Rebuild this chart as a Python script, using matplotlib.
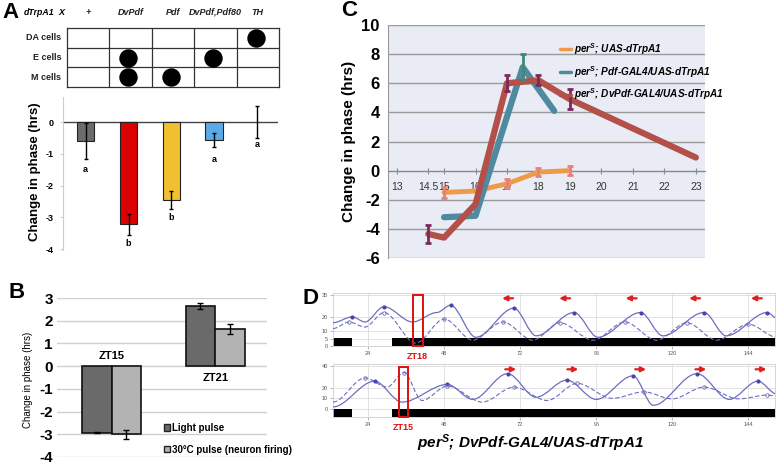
import numpy as np
import matplotlib
matplotlib.use('Agg')
import matplotlib.pyplot as plt
import matplotlib.transforms as mtransforms
from matplotlib.path import Path
from matplotlib.patches import PathPatch, Rectangle, Patch

plt.rcParams['font.family'] = ['Liberation Sans', 'DejaVu Sans']
plt.rcParams['mathtext.default'] = 'regular'

W, H = 777, 466

# ---------------- panel A data
a_genotypes = ['+', 'DvPdf', 'Pdf', 'DvPdf,Pdf80', 'TH']
a_cell_rows = ['DA cells', 'E cells', 'M cells']
a_expression = [[0, 0, 0, 0, 1],
                [0, 1, 0, 1, 0],
                [0, 1, 1, 0, 0]]
a_shift = [-0.6, -3.22, -2.45, -0.57, 0.0]
a_err = [0.57, 0.33, 0.29, 0.22, 0.5]
a_letters = ['a', 'b', 'b', 'a', 'a']
a_letter_y = [-1.48, -3.81, -3.0, -1.17, -0.72]
a_colors = ['#6b6b6b', '#dd0000', '#f0c030', '#5aaae8', 'none']

# ---------------- panel B data
b_groups = ['ZT15', 'ZT21']
b_light = [-2.93, 2.65]
b_light_err = [0.03, 0.12]
b_heat = [-3.0, 1.65]
b_heat_err = [0.2, 0.22]

# ---------------- panel C data
c_tick_pos = [13.5, 14.5, 15, 16, 17, 18, 19, 20, 21, 22, 23]
c_tick_labels = ['13', '14.5', '15', '16', '17', '18', '19', '20', '21', '22', '23']
c_uas_x = [15, 16, 17, 18, 19]
c_uas_y = [-1.5, -1.4, -0.9, -0.1, 0.0]
c_uas_err = [0.35, 0, 0.3, 0.3, 0.3]
c_pdf_x = [15, 16, 17.5, 18.5]
c_pdf_y = [-3.2, -3.1, 7.1, 4.1]
c_pdf_err = [0, 0, 0.9, 0]
c_dv_x = [14.5, 15, 16, 17, 18, 19, 23]
c_dv_y = [-4.35, -4.6, -2.3, 6.0, 6.2, 4.9, 0.9]
c_dv_err = [0.65, 0, 0, 0.55, 0.35, 0.7, 0]

# ---------------- panel D data (hours, counts) - extrema
d_hour_ticks = [24, 48, 72, 96, 120, 144]
d_dark_start = [12.9, 31.5]
d_dark_end = [19.0, 152.4]

d_top_solid_t = [12.9, 19, 23, 29, 38, 45.7, 50, 58, 70, 77, 89, 96.5, 110, 117, 130, 137, 150, 153]
d_top_solid_v = [16, 20, 16.5, 27, 16.5, 23, 28, 6, 26, 7, 23, 6, 23, 7, 23, 7, 23, 19]
d_top_dash_t = [12.9, 18, 23, 29, 39, 48, 57, 66.5, 76, 84.5, 95, 105, 115, 124.6, 134, 144, 153]
d_top_dash_v = [12, 16.5, 13, 23, 2, 18.5, 4, 16.5, 4, 16, 4, 16.5, 4, 16, 4, 15, 6]

d_bot_solid_t = [12.9, 26, 34.7, 49, 57, 68, 77, 86.7, 96, 107.6, 114, 127.8, 138, 147, 153]
d_bot_solid_v = [2, 26, 6.5, 23, 9, 33, 11, 27, 9, 31, 3.5, 33, 9, 26, 14]
d_bot_dash_t = [12.9, 23, 30, 35.3, 41, 49, 60, 70, 80.5, 90, 101, 111, 120, 130, 141, 150, 153]
d_bot_dash_v = [6.5, 29, 20.5, 34, 8, 21.5, 6.5, 20.5, 8, 24, 10, 16, 9.5, 20.5, 9.5, 13, 12]

d_top_arrows = [68, 86, 107, 127, 146.5]
d_bot_arrows = [69, 88.6, 110, 129, 148]
d_top_box = [38.0, 41.3]
d_bot_box = [33.8, 36.6]

fig = plt.figure(figsize=(W / 100, H / 100), dpi=100)


def px_axes(x0, y0, x1, y1):
    return fig.add_axes([x0 / W, 1 - y1 / H, (x1 - x0) / W, (y1 - y0) / H])


def smooth_trace(ax, t, v, **kw):
    # cubic segments with flat tangents at each read-off extremum
    verts = [(t[0], v[0])]
    codes = [Path.MOVETO]
    for i in range(1, len(t)):
        d = (t[i] - t[i - 1]) / 3.0
        verts += [(t[i - 1] + d, v[i - 1]), (t[i] - d, v[i]), (t[i], v[i])]
        codes += [Path.CURVE4] * 3
    ax.add_patch(PathPatch(Path(verts, codes), fill=False, **kw))


def peaks(t, v):
    t = np.asarray(t); v = np.asarray(v)
    m = np.zeros(len(v), bool)
    m[1:-1] = (v[1:-1] > v[:-2]) & (v[1:-1] > v[2:])
    return t[m], v[m]


# ================= panel A : table
fig.text(2 / W, 1 - 13 / H, 'A', fontsize=16, fontweight='bold', va='center')
axt = px_axes(67, 28, 279, 87)
axt.set_xlim(0, 5)
axt.set_ylim(3, 0)
for k in range(1, 5):
    axt.axvline(k, color='#333333', lw=0.9)
for k in range(1, 3):
    axt.axhline(k, color='#333333', lw=0.9)
for s in axt.spines.values():
    s.set_color('#333333')
    s.set_linewidth(0.9)
axt.set_xticks([])
axt.set_yticks([])
for r, row in enumerate(a_expression):
    cols = [c + 0.45 for c, on in enumerate(row) if on]
    axt.scatter(cols, [r + 0.5] * len(cols), s=150, color='black', zorder=3)
    axt.text(-0.14, r + 0.5, a_cell_rows[r], ha='right', va='center', fontsize=6.5,
             fontweight='bold', color='#222222')
for c, g in enumerate(a_genotypes):
    axt.text(c + 0.5, -0.8, g, ha='center', va='center', fontsize=6.5,
             fontweight='bold', style='italic', color='#222222')
axt.text(-0.66, -0.8, 'dTrpA1', ha='center', va='center', fontsize=6.3,
         fontweight='bold', style='italic', clip_on=False)
axt.text(-0.12, -0.8, 'X', ha='center', va='center', fontsize=6.5,
         fontweight='bold', style='italic', clip_on=False)

# ================= panel A : bars
axa = px_axes(63, 97, 278, 250)
xa = np.arange(len(a_shift))
axa.bar(xa, a_shift, width=0.41, color=a_colors,
        edgecolor=['#222222'] * 4 + ['none'], linewidth=0.8, zorder=2)
axa.errorbar(xa, a_shift, yerr=a_err, fmt='none', ecolor='black', elinewidth=1,
             capsize=1.5, capthick=1, zorder=3)
axa.axhline(0, color='#444444', lw=1, zorder=1)
for x, lt, ly in zip(xa, a_letters, a_letter_y):
    axa.text(x, ly, lt, ha='center', va='center', fontsize=6.5, fontweight='bold')
axa.set_xlim(-0.53, 4.49)
axa.set_ylim(-4.03, 0.79)
axa.set_yticks([0, -1, -2, -3, -4])
axa.set_yticklabels(['0', '-1', '-2', '-3', '-4'], fontsize=6.5, fontweight='bold')
axa.set_xticks([])
for s in ['top', 'right', 'bottom']:
    axa.spines[s].set_visible(False)
axa.spines['left'].set_color('#cccccc')
axa.tick_params(axis='y', length=2, color='#cccccc', pad=5)
fig.text(35 / W, 1 - 172 / H, 'Change in phase (hrs)', rotation=90, ha='center',
         va='center', fontsize=9.5, fontweight='bold')

# ================= panel B
fig.text(8 / W, 1 - 292 / H, 'B', fontsize=16, fontweight='bold', va='center')
axb = px_axes(57, 298, 267, 457)
xb = np.arange(len(b_groups))
bw = 0.285
axb.bar(xb - bw / 2, b_light, width=bw, color='#6a6a6a', edgecolor='#111111', lw=1.2, zorder=2)
axb.bar(xb + bw / 2, b_heat, width=bw, color='#b3b3b3', edgecolor='#111111', lw=1.2, zorder=2)
axb.errorbar(xb - bw / 2, b_light, yerr=b_light_err, fmt='none', ecolor='black',
             elinewidth=1, capsize=2, zorder=3)
axb.errorbar(xb + bw / 2, b_heat, yerr=b_heat_err, fmt='none', ecolor='black',
             elinewidth=1, capsize=2, zorder=3)
axb.text(xb[0], 0.45, b_groups[0], ha='center', va='center', fontsize=8, fontweight='bold')
axb.text(xb[1], -0.5, b_groups[1], ha='center', va='center', fontsize=8, fontweight='bold')
axb.set_xlim(-0.527, 1.5)
axb.set_ylim(-4, 3)
axb.set_yticks(range(-4, 4))
axb.set_yticklabels([str(v) for v in range(-4, 4)], fontsize=11, fontweight='bold')
axb.set_xticks([])
axb.grid(axis='y', color='#d0d0d0', lw=1)
axb.set_axisbelow(True)
for s in axb.spines.values():
    s.set_visible(False)
axb.tick_params(axis='y', length=0, pad=3)
handles = [Patch(facecolor='#6a6a6a', edgecolor='#222222'),
           Patch(facecolor='#b3b3b3', edgecolor='#222222')]
axb.legend(handles, ['Light pulse', '30°C pulse (neuron firing)'], loc='lower left',
           bbox_to_anchor=(0.47, -0.04), frameon=False, handlelength=0.6,
           handleheight=0.6, handletextpad=0.2, labelspacing=1.2,
           prop={'weight': 'bold', 'size': 7})
fig.text(28 / W, 1 - 380 / H, 'Change in phase (hrs)', rotation=90, ha='center',
         va='center', fontsize=7)

# ================= panel C
fig.text(341 / W, 1 - 10 / H, 'C', fontsize=16, fontweight='bold', va='center')
axc = px_axes(388, 25, 705, 258)
axc.set_facecolor('#e9ecf4')
axc.set_xlim(13.22, 23.29)
axc.set_ylim(-6, 10)
axc.set_yticks(range(-6, 11, 2))
axc.set_yticklabels([str(v) for v in range(-6, 11, 2)], fontsize=12, fontweight='bold')
axc.grid(axis='y', color='#9a9a9a', lw=1)
axc.set_axisbelow(True)
axc.spines['bottom'].set_position(('data', 0))
axc.spines['bottom'].set_color('#8a8a8a')
axc.spines['left'].set_color('#9a9a9a')
axc.spines['top'].set_visible(False)
axc.spines['right'].set_visible(False)
axc.set_xticks(c_tick_pos)
axc.set_xticklabels(c_tick_labels, fontsize=7.5, color='#333333')
axc.tick_params(axis='x', direction='inout', length=4, color='#8a8a8a', pad=6)
axc.tick_params(axis='y', length=0, pad=6)
axc.set_ylabel('Change in phase (hrs)', fontsize=11, fontweight='bold', labelpad=4)

series = [
    (c_uas_x, c_uas_y, c_uas_err, '#ee9a48', '#e88080', 3.5, r'per$^{S}$; UAS-dTrpA1'),
    (c_pdf_x, c_pdf_y, c_pdf_err, '#4f8aa0', '#3d8a78', 4.5, r'per$^{S}$; Pdf-GAL4/UAS-dTrpA1'),
    (c_dv_x, c_dv_y, c_dv_err, '#b25049', '#7a2a5c', 4.5, r'per$^{S}$; DvPdf-GAL4/UAS-dTrpA1'),
]
for xs, ys, es, col, ecol, lw, lab in series:
    xs = np.asarray(xs); ys = np.asarray(ys); es = np.asarray(es)
    axc.plot(xs, ys, color=col, lw=lw, solid_capstyle='round', solid_joinstyle='round',
             label=lab, zorder=3)
    m = es > 0
    axc.errorbar(xs[m], ys[m], yerr=es[m], fmt='none', ecolor=ecol, elinewidth=2,
                 capsize=2.5, capthick=2, zorder=4)
leg = axc.legend(loc='upper left', bbox_to_anchor=(0.515, 0.97), frameon=False,
                 handlelength=1.1, handletextpad=0.3, labelspacing=0.7,
                 prop={'weight': 'bold', 'style': 'italic', 'size': 7.2})
for ln in leg.get_lines():
    ln.set_linewidth(2.5)

# ================= panel D
fig.text(303 / W, 1 - 298 / H, 'D', fontsize=16, fontweight='bold', va='center')
trace_col = '#6d6dc2'
panels = [
    (px_axes(333, 293, 775, 346), (0, 36.4), (0, 5.5), [0, 5, 10, 20, 35],
     d_top_solid_t, d_top_solid_v, d_top_dash_t, d_top_dash_v, d_top_arrows, -1,
     d_top_box, (0, 35), 'ZT18'),
    (px_axes(333, 364, 775, 417), (-7.4, 42), (-7.4, 0), [0, 10, 20, 40],
     d_bot_solid_t, d_bot_solid_v, d_bot_dash_t, d_bot_dash_v, d_bot_arrows, 1,
     d_bot_box, (-7.4, 39.5), 'ZT15'),
]
for (ax, ylim, bar_y, yt, st, sv, dt, dv, arrows, adir, box, box_y, zt) in panels:
    ax.set_xlim(d_dark_start[0], d_dark_end[-1])
    ax.set_ylim(*ylim)
    ax.broken_barh([(s, e - s) for s, e in zip(d_dark_start, d_dark_end)],
                   (bar_y[0], bar_y[1] - bar_y[0]), facecolors='black', zorder=2)
    ax.set_xticks(d_hour_ticks)
    ax.set_xticklabels([str(h) for h in d_hour_ticks], fontsize=4, color='#555555')
    ax.set_yticks(yt)
    ax.set_yticklabels([str(v) for v in yt], fontsize=4, color='#555555')
    ax.tick_params(length=2, width=0.5, color='#999999', pad=1.5)
    ax.grid(color='#dddddd', lw=0.6)
    for s in ax.spines.values():
        s.set_color('#cfcfcf')
        s.set_linewidth(0.6)
    smooth_trace(ax, st, sv, edgecolor=trace_col, lw=0.9, zorder=3)
    smooth_trace(ax, dt, dv, edgecolor=trace_col, lw=0.8, linestyle=(0, (4, 2)), zorder=3)
    px_, pv_ = peaks(st, sv)
    ax.plot(px_, pv_, 'o', ms=2, color='#4444aa', zorder=4)
    px_, pv_ = peaks(dt, dv)
    ax.plot(px_, pv_, 'o', ms=2.5, mfc='none', mec=trace_col, mew=0.6, zorder=4)
    ay = ylim[1] - 0.1 * (ylim[1] - ylim[0])
    for a in arrows:
        ax.annotate('', xy=(a + adir * 2.6, ay), xytext=(a - adir * 2.6, ay),
                    arrowprops=dict(arrowstyle='-|>', color='#e02020', lw=1.6,
                                    mutation_scale=7), annotation_clip=False, zorder=5)
    ax.add_patch(Rectangle((box[0], box_y[0]), box[1] - box[0], box_y[1] - box_y[0],
                           fill=False, edgecolor='#dd1010', lw=1.4, zorder=6, clip_on=False))
    tr = mtransforms.blended_transform_factory(ax.transData, ax.transAxes)
    ax.text((box[0] + box[1]) / 2, -0.12, zt, transform=tr, ha='center', va='top',
            fontsize=6.5, fontweight='bold', color='#dd1010')

fig.text(530 / W, 1 - 443 / H, r'per$^{S}$; DvPdf-GAL4/UAS-dTrpA1', ha='center',
         va='center', fontsize=11, fontweight='bold', style='italic')

fig.savefig('out.png', dpi=100)
